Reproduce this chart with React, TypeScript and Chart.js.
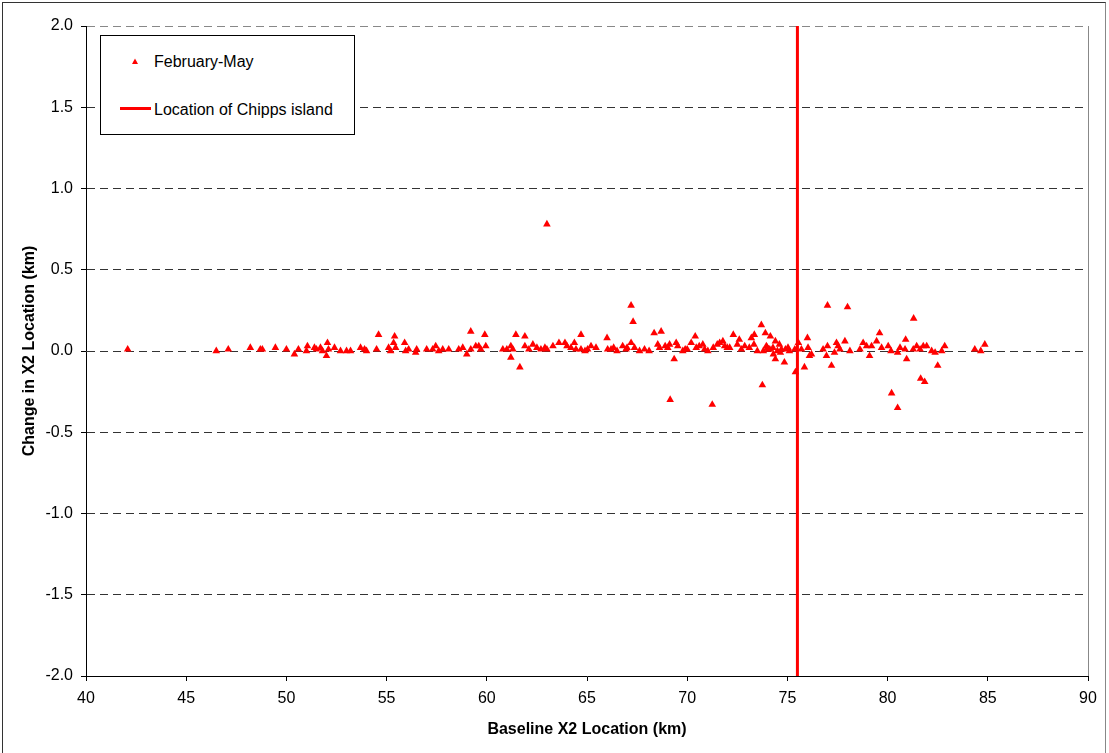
import React, { useEffect, useRef } from "react";
import { Chart, registerables } from "chart.js";

Chart.register(...registerables);

const X_MIN = 40;
const X_MAX = 90;
const X_STEP = 5;
const Y_MIN = -2;
const Y_MAX = 2;
const Y_STEP = 0.5;

const CHIPPS_X = 75.5;

const SERIES_LABEL = "February-May";
const LINE_LABEL = "Location of Chipps island";
const X_TITLE = "Baseline X2 Location (km)";
const Y_TITLE = "Change in X2 Location (km)";

// Baseline X2 location (km)
const baselineX: number[] = [
  42.08, 46.5, 47.1, 48.2, 48.7, 48.8, 49.45, 50.0, 50.4, 50.6, 51.0, 51.05, 51.4, 51.5, 51.7, 51.8, 52.0, 52.05, 52.1,
  52.4, 52.7, 53.0, 53.2, 53.7, 53.9, 54.0, 54.6, 54.5, 55.1, 55.2, 55.4, 55.35, 55.45, 55.9, 55.95, 56.1, 56.5, 56.45,
  57.0, 57.3, 57.45, 57.6, 57.8, 58.1, 58.6, 58.8, 59.0, 59.2, 59.45, 59.6, 59.7, 59.95, 59.2, 59.9, 60.8, 61.0, 61.2,
  61.3, 61.2, 61.65, 61.45, 61.9, 61.9, 62.1, 62.3, 62.7, 62.9, 63.0, 63.6, 63.9, 64.0, 63.0,
  64.37, 64.45, 64.7, 65.03, 65.45, 66.0, 66.03, 66.33, 66.5, 66.78, 66.95, 67.2, 67.37, 67.62, 67.87, 68.53, 68.62,
  69.03, 69.12, 69.45, 69.53, 69.78, 70.2, 70.45, 70.78, 70.87, 71.03, 71.62, 71.78, 71.87, 72.12, 72.87, 73.33, 73.95,
  74.12, 74.28, 74.7, 75.03, 75.37, 75.7, 76.03,
  64.7, 67.2, 67.3, 68.35, 68.7, 69.35, 69.15, 71.25, 70.4, 72.3, 72.6, 73.35, 73.2, 73.7, 73.9, 74.15, 74.4, 74.6,
  74.4, 74.85, 73.75, 75.4, 75.85, 76.1, 76.0, 75.55,
  73.8, 74.0, 74.3, 74.5, 74.9, 75.1, 62.5, 63.3, 70.0, 70.6, 72.0, 72.5,
  64.2, 64.9, 65.2, 66.2, 67.0, 68.1, 68.9, 69.9, 71.3, 71.5, 72.7, 73.1, 73.5, 74.05, 74.65,
  76.78, 77.0, 77.53, 77.45, 77.62, 77.87, 78.12, 78.62, 78.78, 78.95, 79.2, 79.45, 79.7, 80.03, 80.17, 80.5, 80.62,
  80.87, 81.28, 81.45, 81.62, 81.78, 81.95, 82.2, 82.37, 82.7, 76.2,
  77.0, 78.0, 81.3, 77.2, 76.95, 77.35, 79.1, 79.6, 80.9, 80.95, 80.2, 80.5, 81.65, 81.85, 82.5, 82.85, 84.35, 84.65, 84.85,
];

// Change in X2 location (km)
const changeY: number[] = [
  0.01, 0.0, 0.01, 0.02, 0.01, 0.01, 0.02, 0.01, -0.02, 0.01, 0.0, 0.03, 0.02, 0.01, 0.02, 0.0, -0.03, 0.05, 0.01,
  0.02, 0.0, 0.0, 0.0, 0.02, 0.01, 0.0, 0.1, 0.01, 0.02, 0.0, 0.09, 0.05, 0.02, 0.05, 0.0, 0.01, 0.01, -0.01,
  0.01, 0.01, 0.03, 0.0, 0.01, 0.01, 0.01, 0.02, -0.02, 0.01, 0.03, 0.03, 0.01, 0.03, 0.12, 0.1, 0.01, 0.01, 0.03,
  0.01, -0.04, -0.1, 0.1, 0.09, 0.03, 0.01, 0.04, 0.01, 0.02, 0.01, 0.05, 0.05, 0.03, 0.78,
  0.05, 0.01, 0.01, 0.01, 0.02, 0.08, 0.01, 0.02, 0.0, 0.03, 0.01, 0.05, 0.02, 0.0, 0.01, 0.04, 0.02,
  0.02, 0.04, 0.05, 0.03, 0.0, 0.05, 0.02, 0.04, 0.01, 0.0, 0.05, 0.06, 0.03, 0.02, 0.03, 0.04, 0.03,
  0.01, 0.02, 0.01, 0.02, 0.01, 0.01, 0.02,
  0.1, 0.28, 0.18, 0.11, 0.12, -0.05, -0.3, -0.33, 0.09, 0.1, 0.07, 0.1, 0.08, 0.16, 0.11, 0.09, 0.06, 0.04,
  -0.05, -0.07, -0.21, -0.13, -0.1, -0.03, 0.08, 0.05,
  0.0, 0.02, -0.02, 0.0, 0.01, 0.0, 0.02, 0.03, 0.01, 0.03, 0.02, 0.04,
  0.02, 0.0, 0.03, 0.01, 0.02, 0.0, 0.03, 0.01, 0.02, 0.04, 0.01, 0.02, 0.0, 0.01, -0.01,
  0.01, 0.03, 0.03, 0.05, 0.01, 0.06, 0.0, 0.01, 0.05, 0.03, 0.03, 0.06, 0.02, 0.03, 0.0, -0.01, 0.02,
  0.01, 0.01, 0.03, 0.01, 0.03, 0.03, 0.0, -0.01, 0.0, -0.02,
  0.28, 0.27, 0.2, -0.09, -0.03, -0.01, -0.03, 0.11, 0.07, -0.05, -0.26, -0.35, -0.17, -0.19, -0.09, 0.03, 0.01, 0.0, 0.04,
];

const FONT = "'Liberation Sans', Arial, sans-serif";
const RED = "#ff0000";

const frame = {
  id: "frame",
  afterDraw(chart: any) {
    const { ctx, chartArea } = chart;
    ctx.save();
    ctx.strokeStyle = "#888";
    ctx.lineWidth = 1;
    ctx.beginPath();
    const x = Math.round(chartArea.right) + 0.5;
    ctx.moveTo(x, chartArea.top);
    ctx.lineTo(x, chartArea.bottom);
    ctx.stroke();
    ctx.restore();
  },
};

export default function App() {
  const ref = useRef<HTMLCanvasElement>(null);

  useEffect(() => {
    if (!ref.current) return;
    Chart.defaults.font.family = FONT;
    Chart.defaults.color = "#000";
    const points = baselineX.map((x, i) => ({ x, y: changeY[i] }));
    const chart = new Chart(ref.current, {
      type: "scatter",
      data: {
        datasets: [
          {
            label: SERIES_LABEL,
            data: points,
            pointStyle: "triangle",
            pointRadius: 4.4,
            pointBackgroundColor: RED,
            pointBorderColor: RED,
            pointBorderWidth: 0,
            showLine: false,
          },
          {
            label: LINE_LABEL,
            data: [
              { x: CHIPPS_X, y: Y_MIN },
              { x: CHIPPS_X, y: Y_MAX },
            ],
            showLine: true,
            borderColor: RED,
            borderWidth: 3,
            pointRadius: 0,
          },
        ],
      },
      options: {
        responsive: false,
        animation: false,
        layout: { padding: { left: 0, top: 26, right: 21, bottom: 0 } },
        plugins: { legend: { display: false }, tooltip: { enabled: false } },
        scales: {
          x: {
            type: "linear",
            min: X_MIN,
            max: X_MAX,
            afterFit: (s: any) => {
              s.height = 77;
            },
            ticks: {
              stepSize: X_STEP,
              padding: 8,
              font: { size: 16 },
              color: "#000",
              maxRotation: 0,
            },
            grid: {
              drawOnChartArea: false,
              drawTicks: true,
              tickLength: 5,
              tickColor: "#000",
            },
            border: { display: true, color: "#000", width: 1 },
            title: {
              display: true,
              text: X_TITLE,
              font: { size: 16, weight: "bold" },
              color: "#000",
              padding: { top: 0, bottom: 14 },
            },
          },
          y: {
            type: "linear",
            min: Y_MIN,
            max: Y_MAX,
            afterFit: (s: any) => {
              s.width = 86;
            },
            ticks: {
              stepSize: Y_STEP,
              padding: 8,
              font: { size: 16 },
              color: "#000",
              callback: (v: any) => Number(v).toFixed(1),
            },
            grid: {
              drawTicks: true,
              tickLength: 5,
              tickColor: "#000",
              lineWidth: 1,
              color: (c: any) => {
                const v = c.tick ? c.tick.value : 0;
                if (v === Y_MAX) return "#888";
                if (v === Y_MIN) return "rgba(0,0,0,0)";
                return "#333";
              },
            },
            border: { display: true, color: "#000", width: 1, dash: [8, 5] },
            title: {
              display: true,
              text: Y_TITLE,
              font: { size: 16, weight: "bold" },
              color: "#000",
              padding: { top: 20, bottom: 0 },
            },
          },
        },
      },
      plugins: [frame],
    });
    return () => chart.destroy();
  }, []);

  const textStyle: React.CSSProperties = {
    position: "absolute",
    fontFamily: FONT,
    fontSize: 16,
    lineHeight: "19px",
    color: "#000",
    whiteSpace: "nowrap",
  };

  return (
    <div style={{ position: "fixed", left: 0, top: 0, width: 1109, height: 753, background: "#fff", overflow: "hidden" }}>
      <canvas ref={ref} width={1109} height={753} style={{ position: "absolute", left: 0, top: 0 }} />
      <div
        style={{
          position: "absolute",
          left: 2,
          top: 2,
          width: 1104,
          height: 760,
          borderTop: "1px solid #333",
          borderLeft: "1px solid #333",
          borderRight: "1px solid #888",
          boxSizing: "border-box",
          pointerEvents: "none",
        }}
      />
      <div
        style={{
          position: "absolute",
          left: 100,
          top: 35,
          width: 255,
          height: 100,
          border: "1px solid #000",
          boxSizing: "border-box",
          background: "#fff",
        }}
      />
      <svg style={{ position: "absolute", left: 0, top: 0 }} width={400} height={160}>
        <polygon points="132,64 138,64 135,58.5" fill={RED} />
        <rect x={120} y={107} width={31} height={3} fill={RED} />
      </svg>
      <span style={{ ...textStyle, left: 154, top: 52 }}>{SERIES_LABEL}</span>
      <span style={{ ...textStyle, left: 154, top: 100 }}>{LINE_LABEL}</span>
    </div>
  );
}
